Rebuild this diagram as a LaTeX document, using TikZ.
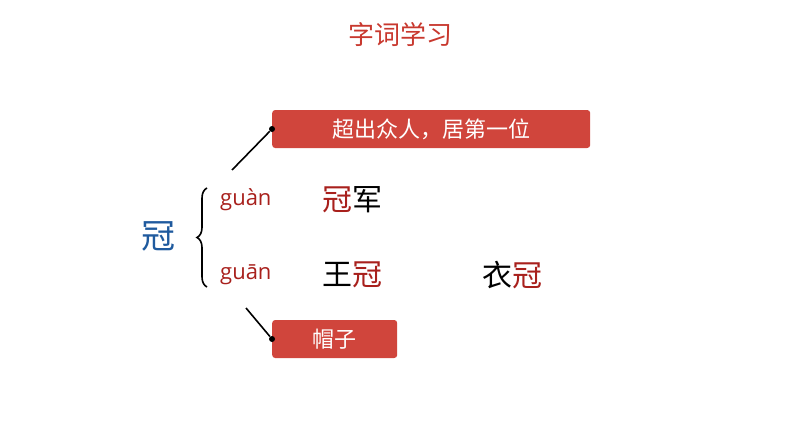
\documentclass[tikz,border=0pt]{standalone}
\usepackage{fontspec}
\setmainfont{Noto Sans CJK SC}
\newfontfamily\latinfont{Open Sans}
\usetikzlibrary{positioning,decorations.pathreplacing}
\definecolor{boxred}{HTML}{D0453C}
\definecolor{titlered}{HTML}{C8382E}
\definecolor{charred}{HTML}{A8201C}
\definecolor{charblue}{HTML}{1F5A9E}
\tikzset{
  every node/.append style={inner sep=0pt},
  meaning/.style={fill=boxred, rounded corners=3pt, text=white, font=\fontsize{22}{24}\selectfont, minimum height=38pt, anchor=west},
  pinyin/.style={text=charred, font=\latinfont\fontsize{22}{24}\selectfont, anchor=west},
  word/.style={font=\fontsize{30}{32}\selectfont, anchor=west},
  link/.style={line width=1.6pt},
  dot/.style={circle, fill=black, minimum size=6pt}
}
\begin{document}
\begin{tikzpicture}[x=1pt,y=-1pt]
\useasboundingbox (0,0) rectangle (794,447);

% title
\node[text=titlered, font=\fontsize{26}{28}\selectfont] (title) at (400,35) {字词学习};

% meanings
\node[meaning, minimum width=318pt] (top) at (272,129) {超出众人，居第一位};
\node[meaning, minimum width=125pt] (bottom) at (272,339) {帽子};
\node[dot] (topdot) at (top.west) {};
\node[dot] (bottomdot) at (bottom.west) {};

% head character and brace
\node[text=charblue, font=\fontsize{34}{36}\selectfont] (head) at (158,236) {冠};
\draw[line width=1.6pt, decorate, decoration={brace, amplitude=10pt}] (207,287) -- (207,188);

% readings
\node[pinyin] (py1) at (220,200) {guàn};
\node[pinyin] (py2) at (220,275) {guān};
\node[word] (w1) at (322,200) {\textcolor{charred}{冠}军};
\node[word] (w2) at (322,275) {王\textcolor{charred}{冠}};
\node[word] (w3) at (482,275) {衣\textcolor{charred}{冠}};

% connectors
\coordinate (c1) at (232,170);
\coordinate (c2) at (246,308);
\draw[link] (c1) -- (topdot);
\draw[link] (c2) -- (bottomdot);
\end{tikzpicture}
\end{document}
